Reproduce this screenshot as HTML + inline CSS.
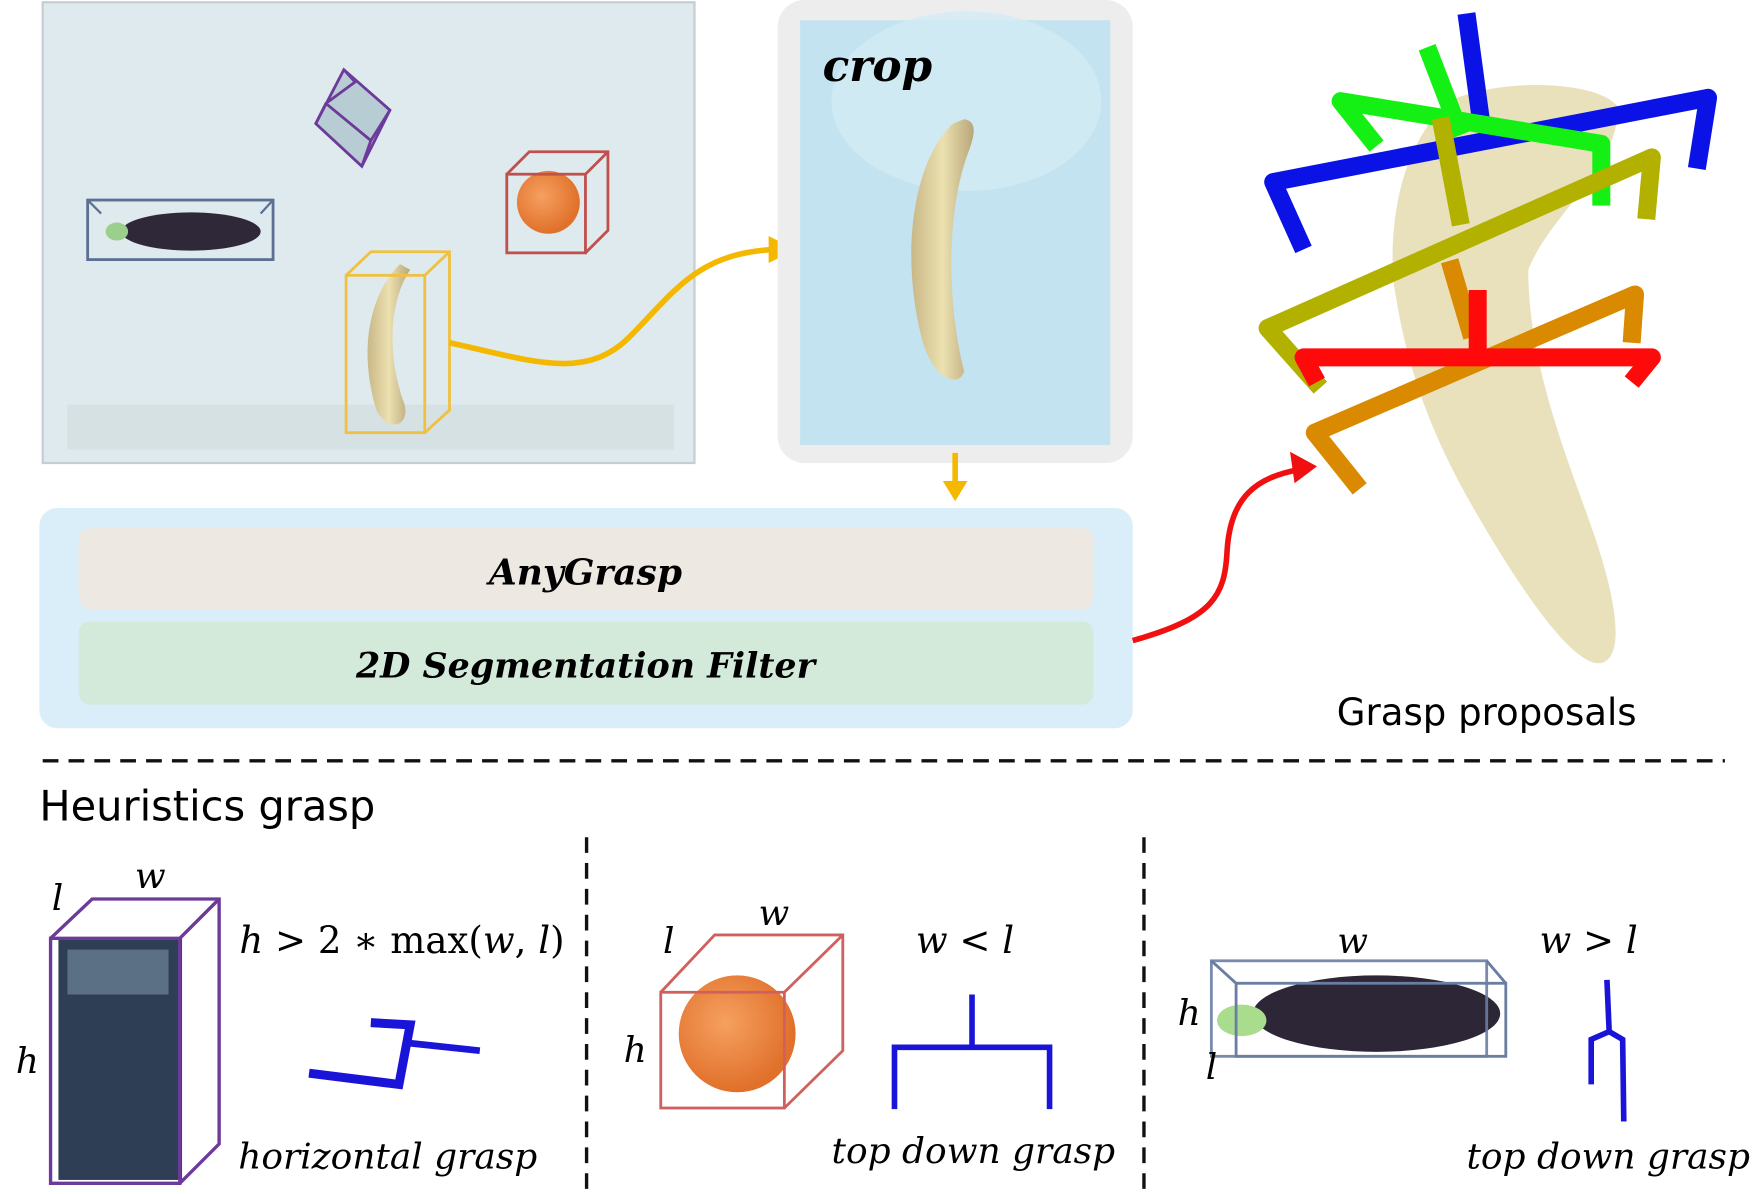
<!DOCTYPE html>
<html><head><meta charset="utf-8"><style>
html,body{margin:0;padding:0;background:#fff;width:1762px;height:1194px;overflow:hidden}
svg{display:block}
text{font-family:"DejaVu Serif","Liberation Serif",serif}
.sans{font-family:"DejaVu Sans","Liberation Sans",sans-serif}
</style></head><body>
<svg width="1762" height="1194" viewBox="0 0 1568 1062.5" xmlns="http://www.w3.org/2000/svg">
<defs>
<radialGradient id="gOr" cx="0.4" cy="0.4" r="0.6"><stop offset="0" stop-color="#f6a060"/><stop offset="1" stop-color="#e0702a"/></radialGradient>
<linearGradient id="gBan" x1="0" x2="1"><stop offset="0" stop-color="#c9b787"/><stop offset="0.5" stop-color="#ece1b0"/><stop offset="1" stop-color="#b8a67a"/></linearGradient>
</defs>
<g>
<rect x="38" y="2" width="580" height="410" fill="#dfeaee" stroke="#c5ced2" stroke-width="2"/>
<rect x="60" y="360" width="540" height="40" fill="#d0dade" opacity="0.6"/>
<g fill="none" stroke="#6b3a9a" stroke-width="2.5">
<polygon points="281,110 306,62 347,98 322,148" fill="#b8ccd4"/>
<polyline points="281,110 290,92 316,73 306,62"/>
<polyline points="290,92 330,125 322,148"/><line x1="330" y1="125" x2="347" y2="98"/>
</g>
<g>
<ellipse cx="170" cy="206" rx="62" ry="17" fill="#2e2838"/>
<ellipse cx="104" cy="206" rx="10" ry="8" fill="#9bcf8c"/>
<rect x="78" y="178" width="165" height="53" fill="none" stroke="#5c6f95" stroke-width="2.5"/>
<line x1="78" y1="178" x2="90" y2="190" stroke="#5c6f95" stroke-width="2"/><line x1="243" y1="178" x2="232" y2="190" stroke="#5c6f95" stroke-width="2"/>
</g>
<g>
<circle cx="488" cy="180" r="28" fill="url(#gOr)"/>
<rect x="451" y="155" width="70" height="70" fill="none" stroke="#c0504d" stroke-width="2.5"/>
<polyline points="451,155 471,135 541,135 541,205 521,225" fill="none" stroke="#c0504d" stroke-width="2.5"/>
<line x1="521" y1="155" x2="541" y2="135" stroke="#c0504d" stroke-width="2.5"/>
</g>
<g>
<path d="M356,235 C330,260 318,310 335,365 C345,385 365,380 360,360 C345,320 345,270 365,240 Z" fill="url(#gBan)"/>
<rect x="308" y="245" width="70" height="140" fill="none" stroke="#f0c040" stroke-width="2.5"/>
<polyline points="308,245 330,224 400,224 400,365 378,385" fill="none" stroke="#f0c040" stroke-width="2.5"/>
<line x1="378" y1="245" x2="400" y2="224" stroke="#f0c040" stroke-width="2.5"/>
</g>
</g>
<path d="M400,305 C470,320 520,340 560,300 C600,260 620,225 690,222" fill="none" stroke="#f5b800" stroke-width="5"/>
<polygon points="708,222 684,210 684,234" fill="#f5b800"/>
<g>
<rect x="692" y="0" width="316" height="412" rx="24" fill="#ededed"/>
<rect x="712" y="18" width="276" height="378" fill="#c4e3f0"/>
<ellipse cx="860" cy="90" rx="120" ry="80" fill="#d3ebf4" opacity="0.8"/>
<path d="M848,110 C815,140 800,220 820,300 C830,340 855,345 858,330 C845,280 840,200 860,140 C868,120 870,108 858,106 Z" fill="url(#gBan)"/>
<text x="732" y="72" font-size="39" font-weight="bold" font-style="italic">crop</text>
</g>
<line x1="850" y1="403" x2="850" y2="430" stroke="#f5b800" stroke-width="5"/>
<polygon points="839,428 861,428 850,446" fill="#f5b800"/>
<g>
<rect x="35" y="452" width="973" height="196" rx="16" fill="#d9eef8"/>
<rect x="70" y="470" width="903" height="72" rx="10" fill="#ede8e2"/>
<rect x="70" y="553" width="903" height="74" rx="10" fill="#d3e9d9"/>
<text x="521" y="520" font-size="32" font-weight="bold" font-style="italic" text-anchor="middle">AnyGrasp</text>
<text x="521" y="603" font-size="31" font-weight="bold" font-style="italic" text-anchor="middle">2D Segmentation Filter</text>
</g>
<path d="M1008,570 C1080,550 1090,530 1092,490 C1095,440 1120,425 1155,418" fill="none" stroke="#f01010" stroke-width="5"/>
<polygon points="1172,415 1148,402 1152,430" fill="#f01010"/>
<g stroke-linejoin="round">
<path d="M1290,90 C1330,70 1420,70 1440,95 C1440,150 1380,190 1360,240 C1360,330 1400,420 1420,480 C1440,540 1445,585 1425,590 C1400,595 1350,520 1310,450 C1270,380 1250,320 1240,250 C1235,180 1255,120 1290,90 Z" fill="#e6deb4" opacity="0.9"/>
<g fill="none" stroke-width="16">
<polyline points="1160,222 1133,162 1520,87 1510,150" stroke="#0a12e6"/>
<line x1="1305" y1="12" x2="1318" y2="108" stroke="#0a12e6"/>
<polyline points="1225,130 1193,90 1425,128 1425,183" stroke="#14f014"/>
<line x1="1270" y1="42" x2="1300" y2="120" stroke="#14f014"/>
<polyline points="1175,345 1128,292 1470,140 1465,195" stroke="#b2b100"/>
<line x1="1282" y1="105" x2="1300" y2="200" stroke="#b2b100"/>
<polyline points="1210,435 1170,385 1455,262 1452,305" stroke="#d98a00"/>
<line x1="1290" y1="232" x2="1310" y2="300" stroke="#d98a00"/>
<polyline points="1172,340 1160,318 1470,318 1452,340" stroke="#ff0a0a"/>
<line x1="1315" y1="258" x2="1315" y2="318" stroke="#ff0a0a"/>
</g>
</g>
<text x="1323" y="645" font-size="33" text-anchor="middle" class="sans">Grasp proposals</text>
<line x1="38" y1="677" x2="1535" y2="677" stroke="#111" stroke-width="3" stroke-dasharray="14,9"/>
<text x="35" y="730" font-size="37" class="sans">Heuristics grasp</text>
<line x1="522" y1="745" x2="522" y2="1060" stroke="#111" stroke-width="3" stroke-dasharray="14,9"/>
<line x1="1018" y1="745" x2="1018" y2="1060" stroke="#111" stroke-width="3" stroke-dasharray="14,9"/>
<g>
<rect x="52" y="835" width="110" height="215" fill="#2d3e55"/>
<rect x="60" y="845" width="90" height="40" fill="#8aa0b5" opacity="0.5"/>
<rect x="45" y="835" width="115" height="218" fill="none" stroke="#6b3a9a" stroke-width="3"/>
<polyline points="45,835 82,800 195,800 195,1018 160,1053" fill="none" stroke="#6b3a9a" stroke-width="3"/>
<line x1="160" y1="835" x2="195" y2="800" stroke="#6b3a9a" stroke-width="3"/>
<text x="46" y="810" font-size="32" font-style="italic">l</text>
<text x="120" y="790" font-size="32" font-style="italic">w</text>
<text x="14" y="955" font-size="32" font-style="italic">h</text>
<text x="213" y="848" font-size="33"><tspan font-style="italic">h</tspan> &gt; 2 ∗ max(<tspan font-style="italic">w</tspan>, <tspan font-style="italic">l</tspan>)</text>
<polyline points="275,955 355,965 365,912 330,910" fill="none" stroke="#1a14d8" stroke-width="8"/>
<line x1="362" y1="928" x2="427" y2="935" stroke="#1a14d8" stroke-width="6"/>
<text x="212" y="1040" font-size="32" font-style="italic">horizontal grasp</text>
</g>
<g>
<circle cx="656" cy="920" r="52" fill="url(#gOr)"/>
<rect x="588" y="883" width="110" height="103" fill="none" stroke="#d0605d" stroke-width="2.5"/>
<polyline points="588,883 636,832 750,832 750,935 698,986" fill="none" stroke="#d0605d" stroke-width="2.5"/>
<line x1="698" y1="883" x2="750" y2="832" stroke="#d0605d" stroke-width="2.5"/>
<text x="590" y="848" font-size="32" font-style="italic">l</text>
<text x="675" y="823" font-size="32" font-style="italic">w</text>
<text x="555" y="945" font-size="32" font-style="italic">h</text>
<text x="815" y="848" font-size="33" font-style="italic">w &lt; l</text>
<polyline points="796,987 796,932 934,932 934,987" fill="none" stroke="#1a14d8" stroke-width="5"/>
<line x1="865" y1="885" x2="865" y2="932" stroke="#1a14d8" stroke-width="5"/>
<text x="740" y="1035" font-size="32" font-style="italic">top down grasp</text>
</g>
<g>
<ellipse cx="1225" cy="902" rx="110" ry="34" fill="#2c2636"/>
<ellipse cx="1105" cy="908" rx="22" ry="14" fill="#a9dc8d"/>
<rect x="1078" y="855" width="245" height="85" fill="none" stroke="#6a7da3" stroke-width="2.5" opacity="0.9"/>
<rect x="1100" y="875" width="240" height="65" fill="none" stroke="#6a7da3" stroke-width="2.5"/>
<line x1="1078" y1="855" x2="1100" y2="875" stroke="#6a7da3" stroke-width="2.5"/>
<line x1="1323" y1="855" x2="1340" y2="875" stroke="#6a7da3" stroke-width="2.5"/>
<text x="1190" y="848" font-size="32" font-style="italic">w</text>
<text x="1048" y="912" font-size="32" font-style="italic">h</text>
<text x="1073" y="960" font-size="32" font-style="italic">l</text>
<text x="1370" y="848" font-size="33" font-style="italic">w &gt; l</text>
<polyline points="1430,872 1432,918 1416,925 1416,965" fill="none" stroke="#1a14d8" stroke-width="5"/>
<polyline points="1432,918 1444,925 1445,998" fill="none" stroke="#1a14d8" stroke-width="5"/>
<text x="1305" y="1040" font-size="32" font-style="italic">top down grasp</text>
</g>
</svg>
</body></html>
